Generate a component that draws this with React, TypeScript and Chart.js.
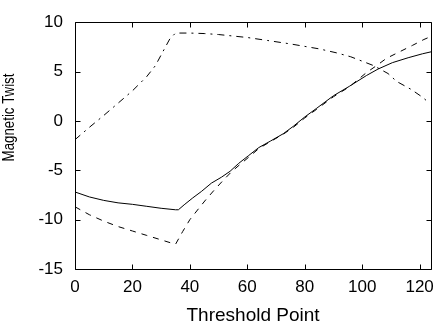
import React, { useEffect, useRef } from "react";
import { Chart, registerables } from "chart.js";

Chart.register(...registerables);

// Data
const solidX = [0, 5, 10, 15, 20, 25, 30, 35, 36, 38, 41, 44, 47.5, 51, 54, 57, 60.5, 64, 68, 72.5, 76, 80, 84, 90, 95.5, 101.5, 105.5, 110.5, 116, 121, 124];
const solidY = [-7.2, -7.7, -8.05, -8.3, -8.45, -8.65, -8.85, -9.0, -9.0, -8.5, -7.8, -7.15, -6.3, -5.7, -5.1, -4.3, -3.5, -2.7, -2.05, -1.3, -0.55, 0.4, 1.25, 2.55, 3.5, 4.6, 5.25, 5.9, 6.4, 6.8, 7.0];

const dashedX = [0, 5, 10, 15, 20, 25, 30, 35, 37.5, 40, 43, 45.5, 48.5, 51.5, 54.5, 57.5, 61, 64, 68, 72.5, 76, 80, 84, 90, 95.5, 101.5, 105, 108.5, 113, 117.5, 121.5, 123.5];
const dashedY = [-8.7, -9.5, -10.15, -10.7, -11.15, -11.6, -12.05, -12.5, -11.2, -10.0, -8.9, -8.0, -7.0, -6.05, -5.15, -4.4, -3.55, -2.8, -2.1, -1.35, -0.65, 0.3, 1.15, 2.45, 3.45, 4.9, 5.6, 6.35, 7.0, 7.65, 8.25, 8.5];

const dashDotX = [0, 5, 10, 15, 20, 25, 28, 31.5, 33, 35, 40, 45, 50, 55, 60, 67, 75, 85, 91, 96, 100, 104, 109, 112, 117, 121, 123];
const dashDotY = [-1.9, -0.65, 0.55, 1.8, 3.05, 4.5, 5.6, 7.5, 8.3, 8.9, 8.9, 8.85, 8.75, 8.6, 8.45, 8.15, 7.8, 7.3, 6.9, 6.5, 6.05, 5.6, 4.8, 4.0, 3.2, 2.4, 1.9];

const xTitle = "Threshold Point";
const yTitle = "Magnetic Twist";
const xMin = 0;
const xMax = 124;
const yMin = -15;
const yMax = 10;

const FONT = "'Liberation Sans', Arial, Helvetica, sans-serif";

const toPoints = (xs: number[], ys: number[]) => xs.map((x, i) => ({ x, y: ys[i] }));

const framePlugin = {
  id: "frame",
  afterDraw(chart: any) {
    const { ctx, chartArea } = chart;
    const l = Math.round(chartArea.left) + 0.5;
    const r = Math.round(chartArea.right) + 0.5;
    const t = Math.round(chartArea.top) + 0.5;
    const b = Math.round(chartArea.bottom) + 0.5;
    const len = 5;
    ctx.save();
    ctx.strokeStyle = "#000";
    ctx.lineWidth = 1;
    ctx.beginPath();
    ctx.rect(l, t, r - l, b - t);
    const xs = chart.scales.x;
    xs.ticks.forEach((tk: any) => {
      const px = Math.round(xs.getPixelForValue(tk.value)) + 0.5;
      ctx.moveTo(px, b);
      ctx.lineTo(px, b - len);
      ctx.moveTo(px, t);
      ctx.lineTo(px, t + len);
    });
    const ys = chart.scales.y;
    ys.ticks.forEach((tk: any) => {
      const py = Math.round(ys.getPixelForValue(tk.value)) + 0.5;
      ctx.moveTo(l, py);
      ctx.lineTo(l + len, py);
      ctx.moveTo(r, py);
      ctx.lineTo(r - len, py);
    });
    ctx.stroke();

    // y-axis title (the reference places it above the axis centre, in a condensed face)
    ctx.translate(9.2, 117.5);
    ctx.rotate(-Math.PI / 2);
    ctx.scale(0.83, 1);
    ctx.fillStyle = "#000";
    ctx.font = `16px ${FONT}`;
    ctx.textAlign = "center";
    ctx.textBaseline = "middle";
    ctx.fillText(yTitle, 0, 0);
    ctx.restore();
  },
};

export default function App() {
  const ref = useRef<HTMLCanvasElement | null>(null);

  useEffect(() => {
    if (!ref.current) return;
    const base = {
      borderColor: "#000",
      borderWidth: 1,
      pointRadius: 0,
      tension: 0,
      fill: false,
    };
    const chart = new Chart(ref.current, {
      type: "line",
      data: {
        datasets: [
          { ...base, label: "solid", data: toPoints(solidX, solidY) },
          { ...base, label: "dashed", data: toPoints(dashedX, dashedY), borderDash: [6, 6] },
          { ...base, label: "dashdot", data: toPoints(dashDotX, dashDotY), borderDash: [7, 5, 2, 5] },
        ],
      },
      options: {
        responsive: false,
        animation: false,
        layout: { padding: { top: 7, right: 6, left: 0, bottom: 0 } },
        plugins: { legend: { display: false }, tooltip: { enabled: false } },
        scales: {
          x: {
            type: "linear",
            min: xMin,
            max: xMax,
            grid: { display: false, drawTicks: false },
            border: { display: false },
            ticks: {
              stepSize: 20,
              includeBounds: false,
              autoSkip: false,
              maxRotation: 0,
              padding: 8,
              color: "#000",
              font: { family: FONT, size: 17 },
            },
            title: {
              display: true,
              text: xTitle,
              color: "#000",
              font: { family: FONT, size: 19, lineHeight: 1 },
              padding: { top: 0, bottom: -1 },
            },
            afterFit: (s: any) => {
              s.height = 55;
            },
          },
          y: {
            type: "linear",
            min: yMin,
            max: yMax,
            grid: { display: false, drawTicks: false },
            border: { display: false },
            ticks: {
              stepSize: 5,
              padding: 12,
              color: "#000",
              font: { family: FONT, size: 17 },
            },
            title: { display: false },
            afterFit: (s: any) => {
              s.width = 75;
            },
          },
        },
      },
      plugins: [framePlugin],
    } as any);
    return () => chart.destroy();
  }, []);

  return (
    <div style={{ position: "fixed", left: 0, top: 0, width: 442, height: 324, background: "#fff" }}>
      <canvas ref={ref} width={442} height={324} style={{ display: "block" }} />
    </div>
  );
}
